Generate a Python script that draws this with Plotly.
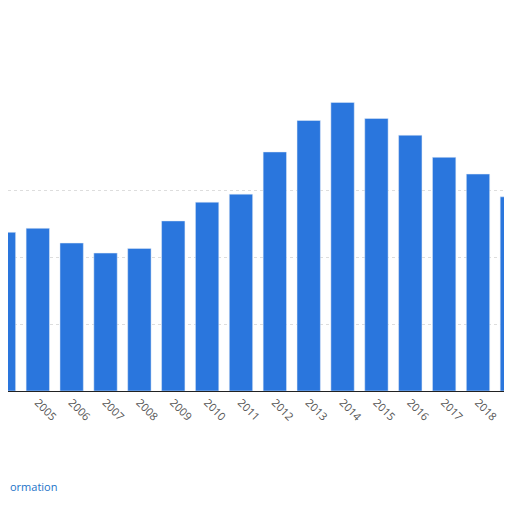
import plotly.graph_objects as go

years = [str(y) for y in range(2004, 2020)]
values = [237, 243, 221, 206, 213, 254, 282, 294, 357, 404, 431, 407, 382, 349, 324, 290]

fig = go.Figure()
fig.add_trace(go.Bar(
    x=list(range(2004, 2020)),
    y=values,
    marker_color='#2a76dd',
    width=0.69,
))

fig.update_layout(
    width=512, height=512,
    margin=dict(l=0, r=0, t=0, b=129, autoexpand=False),
    paper_bgcolor='white', plot_bgcolor='white',
    showlegend=False,
    xaxis=dict(
        range=[2004.12, 2019.24], automargin=False,
        tickvals=list(range(2004, 2020)), ticktext=years,
        tickangle=45, tickfont=dict(family='Open Sans', size=11, color='#555'),
        showline=True, linecolor='#222', linewidth=1, showgrid=False,
        ticks='', fixedrange=True,
    ),
    yaxis=dict(
        range=[0, 572], tickvals=[100, 200, 300], automargin=False,
        showticklabels=False, showgrid=True,
        gridcolor='#ddd', griddash='dot', zeroline=False,
    ),
    annotations=[
        dict(text='ormation', x=0, y=479, xref='paper', yref='paper',
             showarrow=False, xanchor='left', yanchor='middle',
             font=dict(family='Open Sans', size=11, color='#1a73c8')),
        dict(text='©', x=1, y=455, xref='paper', yref='paper', xshift=-3,
             showarrow=False, xanchor='right', yanchor='middle',
             font=dict(family='Open Sans', size=10, color='#333')),
    ],
)
# annotation positions in pixels -> convert to paper coords
plot_h = 512 - 129
for a in fig.layout.annotations:
    a.y = (512 - a.y - 129) / plot_h

fig.write_html("out.html")
